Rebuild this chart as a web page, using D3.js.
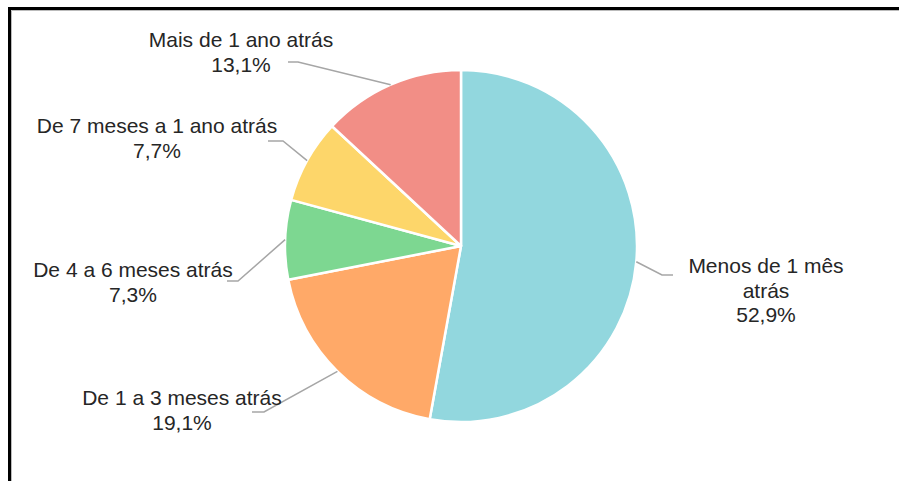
<!DOCTYPE html>
<html><head><meta charset="utf-8">
<script src="https://cdn.jsdelivr.net/npm/d3@7"></script>
<style>html,body{margin:0;padding:0;background:#fff;}svg{display:block;}</style>
</head><body>
<svg id="chart" width="899" height="481"></svg>
<script>
// ---- data ----
const categories = ["Menos de 1 mês atrás", "De 1 a 3 meses atrás", "De 4 a 6 meses atrás", "De 7 meses a 1 ano atrás", "Mais de 1 ano atrás"];
const values = [52.9, 19.1, 7.3, 7.7, 13.1];
const valueLabels = ["52,9%", "19,1%", "7,3%", "7,7%", "13,1%"];
const labelLines = [["Menos de 1 mês", "atrás", "52,9%"], ["De 1 a 3 meses atrás", "19,1%"], ["De 4 a 6 meses atrás", "7,3%"], ["De 7 meses a 1 ano atrás", "7,7%"], ["Mais de 1 ano atrás", "13,1%"]];
const colors = ["#92D7DE", "#FFA968", "#7DD791", "#FDD66A", "#F28E86"];

// ---- layout (not data) ----
const W = 899, H = 481;
const cx = 461, cy = 246, R = 176;
// label layout: centre x, first baseline, leader elbow, leader end
const labelLayout = [
  {x: 766, y: 273, elbow: [662, 275], end: [673, 275]},
  {x: 182, y: 405, elbow: [264, 412], end: [252, 412]},
  {x: 133, y: 277, elbow: [238, 281], end: [227, 281]},
  {x: 157, y: 133, elbow: [283, 141], end: [268, 141]},
  {x: 241, y: 47, elbow: [298, 62], end: [288, 62]}
];
const lineH = 24.5;

const svg = d3.select("#chart");
svg.append("rect").attr("width", W).attr("height", H).attr("fill", "#fff");

// frame
svg.append("path").attr("d", `M9.5,${H} L9.5,8.5 L${W},8.5`).attr("fill", "none").attr("stroke", "#000").attr("stroke-width", 3);
svg.append("path").attr("d", `M11.5,${H} L11.5,10.5 L${W},10.5`).attr("fill", "none").attr("stroke", "#bbb").attr("stroke-width", 1);

const pie = d3.pie().sort(null).value(d => d)(values);
const arc = d3.arc().innerRadius(0).outerRadius(R);
const edgeArc = d3.arc().innerRadius(R).outerRadius(R);

const g = svg.append("g").attr("transform", `translate(${cx},${cy})`);
g.selectAll("path.slice").data(pie).join("path")
  .attr("class", "slice")
  .attr("d", arc)
  .attr("fill", (d, i) => colors[i])
  .attr("stroke", "#fff")
  .attr("stroke-width", 2.5)
  .attr("stroke-linejoin", "round");

// leader lines
svg.selectAll("polyline.leader").data(pie).join("polyline")
  .attr("class", "leader")
  .attr("points", (d, i) => {
    const p = edgeArc.centroid(d);
    const L = labelLayout[i];
    return [[cx + p[0], cy + p[1]], L.elbow, L.end].map(q => q.join(",")).join(" ");
  })
  .attr("fill", "none")
  .attr("stroke", "#A6A6A6")
  .attr("stroke-width", 1.5);

// labels
const lbl = svg.selectAll("text.lbl").data(pie).join("text")
  .attr("class", "lbl")
  .attr("text-anchor", "middle")
  .attr("font-family", "'Liberation Sans', Arial, sans-serif")
  .attr("font-size", 21)
  .attr("fill", "#262626");
lbl.each(function(d, i) {
  const t = d3.select(this);
  labelLines[i].forEach((s, k) => {
    t.append("tspan").attr("x", labelLayout[i].x).attr("y", labelLayout[i].y + k * lineH).text(s);
  });
});
</script>
</body></html>
